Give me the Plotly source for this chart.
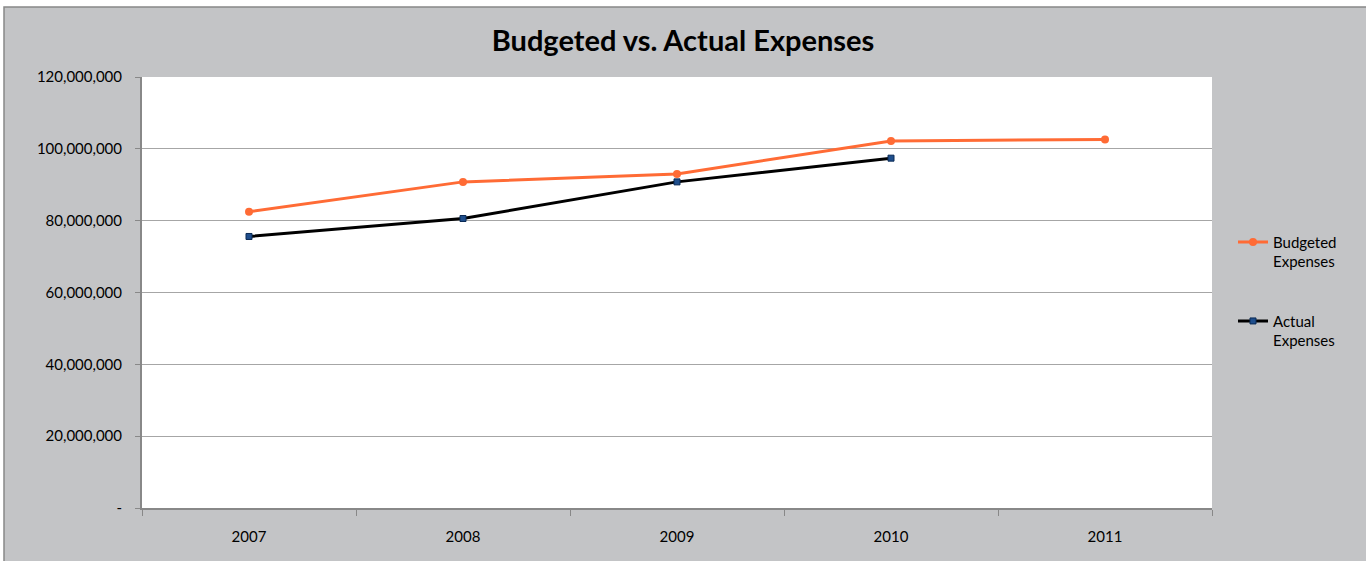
import plotly.graph_objects as go

years = ["2007", "2008", "2009", "2010", "2011"]
budgeted = [82.5e6, 90.8e6, 93.0e6, 102.2e6, 102.6e6]
actual = [75.6e6, 80.6e6, 90.8e6, 97.4e6, None]

y_ticks = [0, 20e6, 40e6, 60e6, 80e6, 100e6, 120e6]
y_labels = ["-", "20,000,000", "40,000,000", "60,000,000", "80,000,000", "100,000,000", "120,000,000"]

BG = "#c3c4c6"
FONT = "Lato, 'Open Sans', sans-serif"
AXIS = "#888888"

# plot area in pixels: x 142..1212, y 77..508
PW, PH = 1070, 431


def px_x(p):
    return (p - 142) / PW


def px_y(p):
    return (508 - p) / PH


fig = go.Figure()
fig.add_trace(go.Scatter(
    x=years, y=budgeted, name="Budgeted<br>Expenses", mode="lines+markers",
    legendgroup="b",
    line=dict(color="#ff6b35", width=3),
    marker=dict(symbol="circle", size=8, color="#ff6b35"),
))
fig.add_trace(go.Scatter(
    x=years, y=actual, name="Actual<br>Expenses", mode="lines+markers",
    legendgroup="a",
    line=dict(color="#000000", width=3),
    marker=dict(symbol="square", size=6, color="#1f4e8c", line=dict(color="#0a2a55", width=1)),
))

fig.update_layout(
    width=1366, height=561,
    paper_bgcolor="#ffffff", plot_bgcolor="#ffffff",
    font=dict(family=FONT, color="#000000", size=15),
    title=dict(text="<b>Budgeted vs. Actual Expenses</b>", x=0.5, xanchor="center",
               y=0.927, yanchor="middle", font=dict(size=29, family=FONT)),
    margin=dict(l=142, r=154, t=77, b=53),
    xaxis=dict(
        type="category", showgrid=False, showline=True, linecolor=AXIS, linewidth=2,
        ticks="outside", tickson="boundaries", ticklen=6, tickcolor=AXIS,
        tickfont=dict(size=15), range=[-0.5, 4.5], ticklabelstandoff=14,
    ),
    yaxis=dict(
        range=[0, 120e6], tickvals=y_ticks, ticktext=y_labels,
        showgrid=True, gridcolor="#a6a6a6", gridwidth=1,
        showline=True, linecolor=AXIS, linewidth=2,
        ticks="outside", ticklen=5, tickcolor=AXIS, zeroline=False,
        tickfont=dict(size=15), ticklabelstandoff=10,
    ),
    legend=dict(x=px_x(1233), y=0.655, xanchor="left", yanchor="top", bgcolor="rgba(0,0,0,0)",
                font=dict(size=15), tracegroupgap=37, itemwidth=30, valign="top"),
    showlegend=True,
    shapes=[
        dict(type="rect", xref="paper", yref="paper",
             x0=px_x(4), x1=px_x(1380), y0=px_y(575), y1=px_y(7),
             fillcolor=BG, line=dict(color=AXIS, width=1.5), layer="below"),
        dict(type="rect", xref="paper", yref="paper", x0=0, x1=1, y0=0, y1=1,
             fillcolor="#ffffff", line=dict(width=0), layer="below"),
    ],
)

fig.write_html("out.html", config={"displayModeBar": False},
               post_script="document.body.style.margin='0';")
